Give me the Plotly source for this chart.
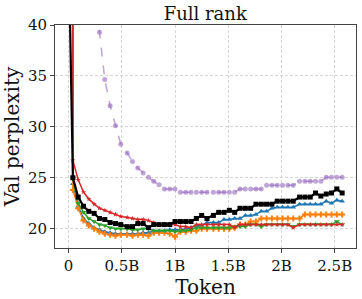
import plotly.graph_objects as go

tokens_b = [0.0, 0.04, 0.09, 0.14, 0.19, 0.24, 0.29, 0.34, 0.39, 0.44, 0.49,
            0.55, 0.60, 0.65, 0.70, 0.75, 0.80, 0.85, 0.90, 0.95, 1.00,
            1.05, 1.10, 1.15, 1.20, 1.25, 1.30, 1.36, 1.41, 1.46, 1.51,
            1.56, 1.61, 1.66, 1.71, 1.76, 1.81, 1.86, 1.91, 1.96, 2.01,
            2.06, 2.11, 2.17, 2.22, 2.27, 2.32, 2.37, 2.42, 2.47, 2.52, 2.57]

purple = [900, 400, 160, 90, 62, 48, 39.3, 34.65, 32.06, 30.1, 28.3,
          27.43, 26.6, 25.96, 25.47, 25.04, 24.65, 24.3, 23.9, 23.9, 23.9,
          23.58, 23.58, 23.58, 23.58, 23.58, 23.58, 23.58, 23.58, 23.58, 23.58,
          23.58, 23.9, 23.9, 23.9, 23.9, 23.9, 24.26, 24.26, 24.26, 24.26,
          24.26, 24.26, 24.65, 24.65, 24.65, 24.65, 24.65, 25.04, 25.04, 25.04, 25.04]

blue = [900, 24.4, 22.2, 21.0, 20.5, 20.1, 19.9, 19.7, 19.6, 19.5, 19.5,
        19.5, 19.5, 19.5, 19.6, 19.6, 19.8, 19.8, 19.8, 19.9, 19.9,
        19.9, 20.0, 20.1, 20.3, 20.3, 20.6, 20.6, 20.6, 20.9, 20.9,
        21.0, 21.0, 21.3, 21.3, 21.4, 21.7, 21.7, 22.0, 22.1, 22.1,
        22.1, 22.1, 22.4, 22.4, 22.4, 22.4, 22.4, 22.7, 22.5, 22.8, 22.7]

orange = [900, 23.8, 22.0, 20.8, 20.3, 20.0, 19.7, 19.5, 19.4, 19.3, 19.4,
          19.4, 19.3, 19.4, 19.4, 19.3, 19.6, 19.6, 19.6, 19.5, 19.2,
          19.7, 19.7, 19.8, 19.8, 20.0, 20.0, 20.0, 20.0, 20.0, 20.0,
          20.1, 20.4, 20.4, 20.7, 20.7, 21.0, 21.0, 21.0, 21.0, 21.0,
          21.0, 21.0, 21.0, 21.4, 21.4, 21.4, 21.4, 21.4, 21.4, 21.4, 21.4]

green = [900, 24.9, 22.5, 21.6, 21.0, 20.7, 20.4, 20.3, 20.1, 20.0, 20.0,
         20.0, 19.9, 19.9, 20.0, 20.0, 19.8, 19.8, 19.8, 19.8, 19.7,
         19.8, 19.8, 19.9, 20.1, 20.1, 20.1, 20.1, 20.1, 20.1, 20.1,
         20.2, 20.2, 20.2, 20.4, 20.4, 20.2, 20.4, 20.4, 20.4, 20.4,
         20.4, 20.2, 20.4, 20.4, 20.4, 20.4, 20.4, 20.4, 20.4, 20.7, 20.4]

red = [900, 26.7, 24.8, 23.6, 22.9, 22.4, 22.0, 21.8, 21.6, 21.4, 21.2,
       21.1, 21.0, 20.9, 20.9, 20.8, 20.6, 20.4, 20.4, 20.4, 20.4,
       20.2, 20.2, 20.1, 20.4, 20.4, 20.4, 20.4, 20.4, 20.4, 20.4,
       20.1, 20.4, 20.4, 20.4, 20.4, 20.4, 20.4, 20.4, 20.4, 20.4,
       20.4, 20.1, 20.4, 20.4, 20.4, 20.4, 20.4, 20.4, 20.4, 20.4, 20.4]

black = [48, 25.0, 23.1, 22.2, 21.7, 21.5, 21.0, 20.9, 20.6, 20.5, 20.4,
         20.2, 20.2, 20.5, 20.5, 20.1, 20.4, 20.4, 20.4, 20.4, 20.7,
         20.7, 20.7, 20.7, 21.0, 21.3, 21.0, 21.3, 21.6, 21.6, 21.8,
         21.6, 22.0, 22.0, 22.0, 22.4, 22.4, 22.4, 22.4, 22.7, 22.7,
         22.7, 22.7, 23.1, 23.1, 23.1, 23.5, 23.2, 23.4, 23.5, 23.9, 23.5]

x_tickvals = [0, 0.5, 1, 1.5, 2, 2.5]
x_ticktext = ["0", "0.5B", "1B", "1.5B", "2B", "2.5B"]
y_tickvals = [20, 25, 30, 35, 40]

series = [
    ("purple", purple, "rgba(148,103,189,0.6)", "circle", "dash", 1.5, 5),
    ("blue", blue, "#1f77b4", "triangle-up", "solid", 1.5, 5),
    ("orange", orange, "#ff7f0e", "cross", "solid", 1.5, 5),
    ("green", green, "#2ca02c", "triangle-down", "solid", 1.5, 5),
    ("red", red, "#d62728", "star", "solid", 1.5, 4),
    ("black", black, "#000000", "square", "solid", 2.2, 5),
]

fig = go.Figure()
for name, vals, color, sym, dash, lw, ms in series:
    fig.add_trace(go.Scatter(
        x=tokens_b, y=vals, mode="lines+markers", name=name,
        line=dict(color=color, width=lw, dash=dash),
        marker=dict(color=color, symbol=sym, size=ms, line=dict(width=0)),
        showlegend=False,
    ))

font_family = "DejaVu Serif"
fig.update_layout(
    width=362, height=299,
    margin=dict(l=55, r=6, t=25, b=51, autoexpand=False),
    paper_bgcolor="white", plot_bgcolor="white",
    font=dict(family=font_family, color="#111"),
    title=dict(text="Full rank", x=0.567, xanchor="center", xref="container",
               y=0.955, yanchor="middle",
               font=dict(size=18, family=font_family, color="#111")),
)
axis_common = dict(
    showline=True, mirror=True, linecolor="#444", linewidth=1,
    ticks="outside", ticklen=4, tickcolor="#444",
    showgrid=True, gridcolor="#d6d6d6", griddash="3px,2px", gridwidth=1,
    zeroline=False, automargin=False,
    tickfont=dict(size=15, family=font_family, color="#111"),
)
fig.update_xaxes(range=[-0.128, 2.70], tickvals=x_tickvals, ticktext=x_ticktext,
                 title=dict(text="Token", font=dict(size=20, family=font_family, color="#111"), standoff=0),
                 **axis_common)
fig.update_yaxes(range=[18.1, 40], tickvals=y_tickvals,
                 title=dict(text="Val perplexity", font=dict(size=20, family=font_family, color="#111"), standoff=2),
                 **axis_common)

fig.write_html("out.html", config={"displayModeBar": False, "staticPlot": True},
               post_script="document.body.style.margin='0';document.body.style.overflow='hidden';")
